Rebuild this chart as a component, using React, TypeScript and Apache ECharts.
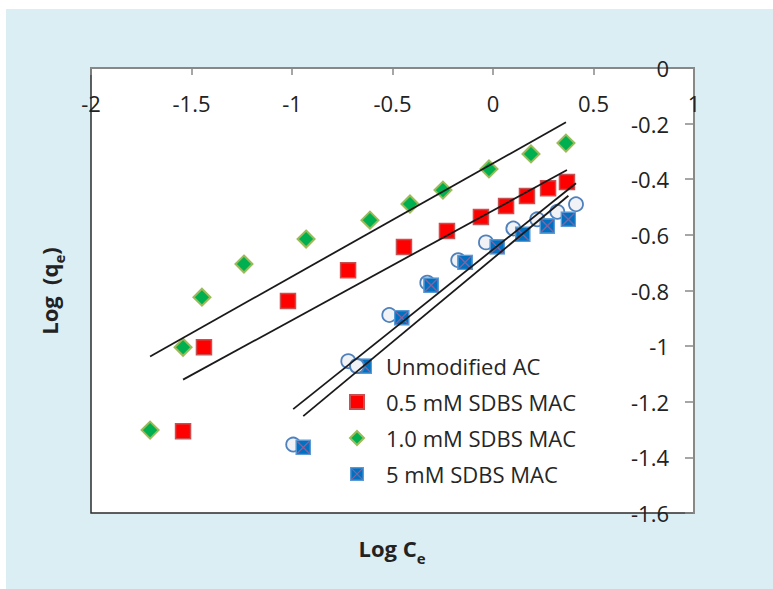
import React, { useEffect, useRef } from "react";
import * as echarts from "echarts";

// Freundlich plot data: log Ce (x) against log qe (y) for each adsorbent
const seriesNames = ["Unmodified AC", "0.5 mM SDBS MAC", "1.0 mM SDBS MAC", "5 mM SDBS MAC"];

const logCeUnmodified = [-0.994, -0.72, -0.516, -0.327, -0.173, -0.035, 0.101, 0.22, 0.32, 0.413];
const logQeUnmodified = [-1.354, -1.054, -0.888, -0.772, -0.691, -0.627, -0.577, -0.544, -0.517, -0.49];

const logCe05 = [-1.542, -1.438, -1.02, -0.721, -0.443, -0.229, -0.06, 0.065, 0.169, 0.274, 0.368];
const logQe05 = [-1.306, -1.004, -0.838, -0.727, -0.644, -0.586, -0.536, -0.496, -0.46, -0.432, -0.41];

const logCe10 = [-1.706, -1.542, -1.448, -1.239, -0.93, -0.612, -0.413, -0.249, -0.02, 0.189, 0.363];
const logQe10 = [-1.302, -1.004, -0.824, -0.705, -0.615, -0.547, -0.489, -0.439, -0.363, -0.309, -0.27];

const logCe5 = [-0.944, -0.64, -0.454, -0.308, -0.139, 0.021, 0.148, 0.27, 0.375];
const logQe5 = [-1.364, -1.072, -0.898, -0.781, -0.699, -0.643, -0.598, -0.568, -0.544];

// Axis ranges and tick steps
const xRange = [-2, 1];
const xStep = 0.5;
const yRange = [-1.6, 0];
const yStep = 0.2;

const FONT = "'Open Sans', 'Noto Sans', sans-serif";

const pairs = (xs: number[], ys: number[]) => xs.map((x, i) => [x, ys[i]]);

// Least-squares linear trendline spanning the series' x range
function trendline(xs: number[], ys: number[]) {
  const n = xs.length;
  const mx = xs.reduce((a, b) => a + b, 0) / n;
  const my = ys.reduce((a, b) => a + b, 0) / n;
  let sxy = 0;
  let sxx = 0;
  for (let i = 0; i < n; i++) {
    sxy += (xs[i] - mx) * (ys[i] - my);
    sxx += (xs[i] - mx) * (xs[i] - mx);
  }
  const slope = sxy / sxx;
  const icpt = my - slope * mx;
  const x0 = Math.min(...xs);
  const x1 = Math.max(...xs);
  return [
    [x0, icpt + slope * x0],
    [x1, icpt + slope * x1],
  ];
}

// Blue square marker crossed with a purple X
const crossSquareSvg =
  "<svg xmlns='http://www.w3.org/2000/svg' width='30' height='30' viewBox='0 0 30 30'>" +
  "<rect x='1.5' y='1.5' width='27' height='27' fill='#0070C0' stroke='#5B9BD5' stroke-width='3'/>" +
  "<path d='M4 4L26 26M26 4L4 26' stroke='#8064A2' stroke-width='2.6'/></svg>";
const crossSquareSymbol = "image://data:image/svg+xml;charset=utf-8," + encodeURIComponent(crossSquareSvg);

function buildOption(): echarts.EChartsCoreOption {
  const trendStyle = { color: "#1a1a1a", width: 1.8 };
  const trendSeries = [
    [logCeUnmodified, logQeUnmodified],
    [logCe05, logQe05],
    [logCe10, logQe10],
    [logCe5, logQe5],
  ].map(([xs, ys], i) => ({
    name: "Linear (" + seriesNames[i] + ")",
    type: "line",
    data: trendline(xs, ys),
    symbol: "none",
    lineStyle: trendStyle,
    silent: true,
    z: 5,
  }));

  const titleRich = {
    a: { fontFamily: FONT, fontSize: 22, fontWeight: "bold", fill: "#222222", lineHeight: 22, verticalAlign: "top" },
    b: { fontFamily: FONT, fontSize: 15, fontWeight: "bold", fill: "#222222", lineHeight: 29, verticalAlign: "bottom" },
  };

  return {
    animation: false,
    textStyle: { fontFamily: FONT },
    grid: {
      show: true,
      left: 91,
      top: 68,
      width: 603,
      height: 445,
      backgroundColor: "#ffffff",
      borderColor: "#2b2b2b",
      borderWidth: 1.5,
    },
    xAxis: {
      type: "value",
      position: "top",
      min: xRange[0],
      max: xRange[1],
      interval: xStep,
      axisLine: { onZero: false, lineStyle: { color: "#888888", width: 2 } },
      axisTick: { inside: true, length: 7, lineStyle: { color: "#888888", width: 1.5 } },
      axisLabel: { inside: true, margin: 24, fontFamily: FONT, fontSize: 22, color: "#222222" },
      splitLine: { show: false },
    },
    yAxis: {
      type: "value",
      position: "right",
      min: yRange[0],
      max: yRange[1],
      interval: yStep,
      axisLine: { show: true, onZero: false, lineStyle: { color: "#888888", width: 2 } },
      axisTick: { show: true, inside: true, length: 9, lineStyle: { color: "#888888", width: 1.5 } },
      axisLabel: { inside: true, margin: 25, fontFamily: FONT, fontSize: 22, color: "#222222" },
      splitLine: { show: false },
    },
    legend: {
      data: seriesNames,
      orient: "vertical",
      left: 349,
      top: 355,
      padding: 0,
      itemWidth: 14,
      itemHeight: 14,
      itemGap: 14,
      selectedMode: false,
      textStyle: { fontFamily: FONT, fontSize: 22, color: "#262626", padding: [0, 0, 0, 17] },
    },
    graphic: [
      {
        type: "text",
        x: 392,
        y: 551,
        style: {
          text: "{a|Log C}{b|e}",
          align: "center",
          verticalAlign: "middle",
          rich: titleRich,
        },
      },
      {
        type: "text",
        x: 52,
        y: 291,
        rotation: Math.PI / 2,
        style: {
          text: "{a|Log  (q}{b|e}{a|)}",
          align: "center",
          verticalAlign: "middle",
          rich: titleRich,
        },
      },
    ],
    series: [
      {
        name: seriesNames[0],
        type: "scatter",
        data: pairs(logCeUnmodified, logQeUnmodified),
        symbol: "circle",
        symbolSize: 14,
        itemStyle: { color: "#F0F2F5", borderColor: "#4F81BD", borderWidth: 1.8, opacity: 1 },
        z: 2,
      },
      {
        name: seriesNames[1],
        type: "scatter",
        data: pairs(logCe05, logQe05),
        symbol: "rect",
        symbolSize: 15,
        itemStyle: { color: "#FF0000", borderColor: "#C85050", borderWidth: 1.5, opacity: 1 },
        z: 2,
      },
      {
        name: seriesNames[2],
        type: "scatter",
        data: pairs(logCe10, logQe10),
        symbol: "diamond",
        symbolSize: 17,
        itemStyle: { color: "#00B050", borderColor: "#9BBB59", borderWidth: 2, opacity: 1 },
        z: 2,
      },
      {
        name: seriesNames[3],
        type: "scatter",
        data: pairs(logCe5, logQe5),
        symbol: crossSquareSymbol,
        symbolSize: 16,
        itemStyle: { color: "#0070C0", opacity: 1 },
        z: 3,
      },
      ...trendSeries,
    ],
  };
}

export default function App() {
  const ref = useRef<HTMLDivElement>(null);

  useEffect(() => {
    if (!ref.current) return;
    const chart = echarts.init(ref.current, null, { renderer: "svg" });
    chart.setOption(buildOption());
    return () => chart.dispose();
  }, []);

  return (
    <div style={{ position: "absolute", left: 0, top: 0, width: 773, height: 589, background: "#ffffff" }}>
      <div style={{ position: "absolute", left: 6, top: 9, width: 767, height: 580, background: "#DBEEF4" }} />
      <div ref={ref} style={{ position: "absolute", left: 0, top: 0, width: 773, height: 589 }} />
    </div>
  );
}
